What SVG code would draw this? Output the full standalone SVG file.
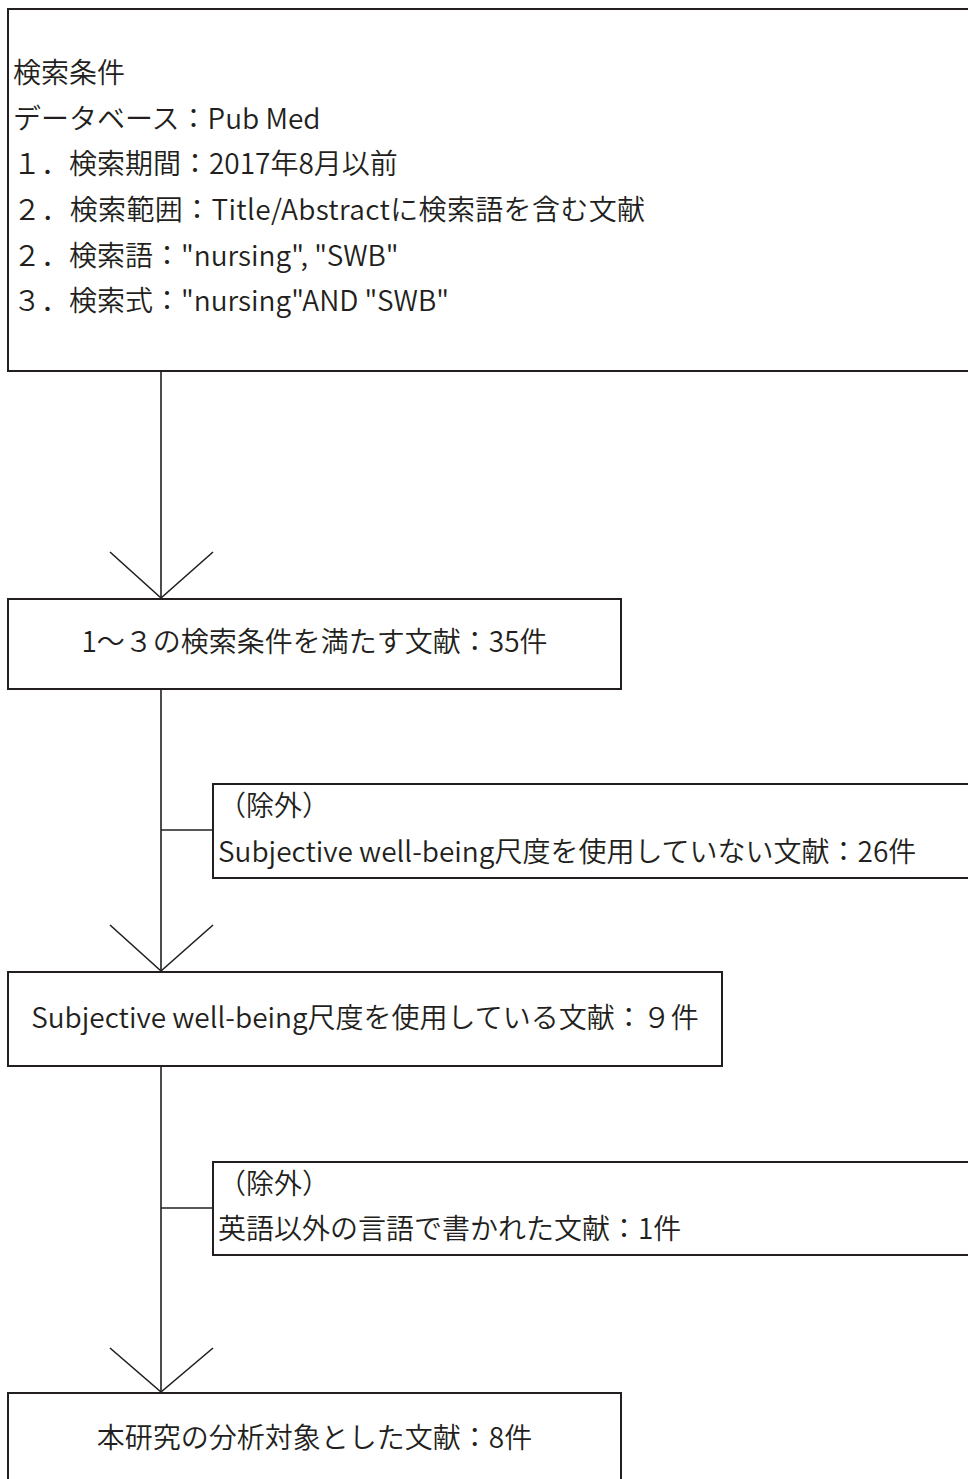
<svg xmlns="http://www.w3.org/2000/svg" width="968" height="1479" viewBox="0 0 968 1479">
<style>
.box{fill:#fff;stroke:#231f20;stroke-width:2}
.ln{fill:none;stroke:#231f20;stroke-width:1.6}
text{font-family:"Noto Sans CJK JP","Noto Sans",sans-serif;font-size:28px;font-weight:350;fill:#231f20}
.c{text-anchor:middle}
</style>
<rect width="968" height="1479" fill="#fff"/>
<g id="connectors">
<line class="ln" x1="161" y1="371" x2="161" y2="598"/>
<polyline class="ln" points="110,552 161,598 213,552"/>
<line class="ln" x1="161" y1="689" x2="161" y2="971"/>
<line class="ln" x1="161" y1="830" x2="213" y2="830"/>
<polyline class="ln" points="110,925 161,971 213,925"/>
<line class="ln" x1="161" y1="1066" x2="161" y2="1392"/>
<line class="ln" x1="161" y1="1208" x2="213" y2="1208"/>
<polyline class="ln" points="110,1348 161,1392 213,1348"/>
</g>
<g id="search-conditions">
<rect class="box" x="8" y="9" width="972" height="362"/>
<text x="13" y="83">検索条件</text>
<text x="13" y="129">データベース：Pub Med</text>
<text x="13" y="174">１．検索期間：2017年8月以前</text>
<text x="13" y="220" textLength="632" lengthAdjust="spacing">２．検索範囲：Title/Abstractに検索語を含む文献</text>
<text x="13" y="266">２．検索語："nursing", "SWB"</text>
<text x="13" y="311">３．検索式："nursing"AND "SWB"</text>
</g>
<g id="n35">
<rect class="box" x="8" y="599" width="613" height="90"/>
<text class="c" x="314.5" y="652">1～３の検索条件を満たす文献：35件</text>
</g>
<g id="excl1">
<rect class="box" x="213" y="784" width="767" height="94"/>
<text x="218" y="816">（除外）</text>
<text x="218" y="862">Subjective well-being尺度を使用していない文献：26件</text>
</g>
<g id="n9">
<rect class="box" x="8" y="972" width="714" height="94"/>
<text class="c" x="365" y="1028">Subjective well-being尺度を使用している文献：９件</text>
</g>
<g id="excl2">
<rect class="box" x="213" y="1162" width="767" height="93"/>
<text x="218" y="1194">（除外）</text>
<text x="218" y="1239">英語以外の言語で書かれた文献：1件</text>
</g>
<g id="n8">
<rect class="box" x="8" y="1393" width="613" height="100"/>
<text class="c" x="314.5" y="1448">本研究の分析対象とした文献：8件</text>
</g>
</svg>
